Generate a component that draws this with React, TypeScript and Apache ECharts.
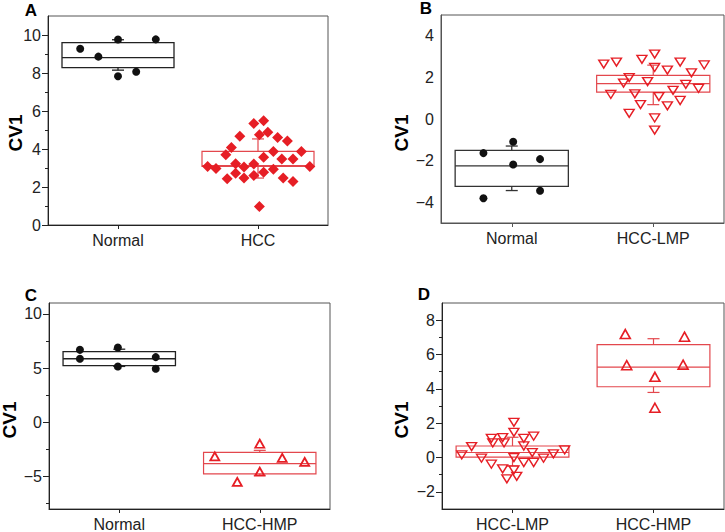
import React, { useEffect, useRef } from 'react';
import * as echarts from 'echarts';

const FONT = '"Liberation Sans", Arial, Helvetica, sans-serif';
const RED = '#e61e25';
const BOX_RED = '#e3474d';
const BLACK = '#111111';

// ---------- Panel A ----------
const catsA = ['Normal', 'HCC'];
const normalA = [[0.23, 9.28], [0.36, 8.86], [0.5, 9.76], [0.5, 7.83], [0.63, 8.07], [0.77, 9.77]];
const hccA = [
  [1.47, 5.34], [1.54, 5.49], [1.37, 4.67], [1.51, 4.75], [1.57, 4.88], [1.64, 4.61], [1.71, 4.42],
  [1.31, 4.08], [1.27, 3.7], [1.61, 3.87], [1.54, 3.56], [1.67, 3.47], [1.75, 3.47], [1.81, 3.87],
  [1.14, 3.08], [1.2, 2.97], [1.34, 3.22], [1.4, 3.05], [1.47, 3.21], [1.61, 2.94], [1.87, 3.08],
  [1.28, 2.43], [1.34, 2.73], [1.4, 2.47], [1.47, 2.61], [1.54, 2.78], [1.68, 2.47], [1.75, 2.29],
  [1.51, 0.97],
];
// [center, q1, median, q3, whiskerLow, whiskerHigh]
const boxNormalA = [0.5, 8.28, 8.81, 9.6, 8.15, 9.75];
const boxHccA = [1.5, 3.08, 3.12, 3.87, 2.47, 4.53];
const majorA = [0, 2, 4, 6, 8, 10];
const minorA = [1, 3, 5, 7, 9];

// ---------- Panel B ----------
const catsB = ['Normal', 'HCC-LMP'];
const normalB = [[0.3, -1.64], [0.51, -1.09], [0.51, -2.19], [0.7, -1.93], [0.3, -3.81], [0.7, -3.45]];
const lmpB = [
  [1.15, 2.64], [1.24, 2.74], [1.42, 2.87], [1.51, 3.12], [1.51, 2.48], [1.6, 2.35], [1.69, 2.74],
  [1.86, 2.6], [1.77, 2.22], [1.33, 1.99], [1.29, 1.73], [1.46, 1.8], [1.73, 1.67], [1.82, 1.47],
  [1.2, 1.18], [1.37, 1.21], [1.64, 1.38], [1.54, 1.08], [1.69, 0.89], [1.41, 0.69], [1.6, 0.63],
  [1.33, 0.27], [1.51, 0.05], [1.51, -0.53],
];
const boxNormalB = [0.5, -3.24, -2.25, -1.51, -3.44, -1.3];
const boxLmpB = [1.5, 1.29, 1.7, 2.1, 0.69, 2.59];
const majorB = [-4, -2, 0, 2, 4];
const minorB: number[] = [];

// ---------- Panel C ----------
const catsC = ['Normal', 'HCC-HMP'];
const normalC = [[0.22, 6.68], [0.22, 5.86], [0.49, 6.89], [0.49, 5.15], [0.76, 6.01], [0.76, 4.94]];
const hmpC = [[1.18, -3.14], [1.5, -1.98], [1.66, -3.29], [1.82, -3.66], [1.5, -4.55], [1.34, -5.5]];
const boxNormalC = [0.5, 5.22, 5.86, 6.52, 5.15, 6.74];
const boxHmpC = [1.5, -4.76, -3.81, -2.78, -4.89, -2.59];
const majorC = [-5, 0, 5, 10];
const minorC = [-7.5, -2.5, 2.5, 7.5];

// ---------- Panel D ----------
const catsD = ['HCC-LMP', 'HCC-HMP'];
const lmpD = [
  [0.51, 2.05], [0.51, 1.47], [0.35, 1.12], [0.43, 1.16], [0.58, 1.12], [0.65, 1.24], [0.36, 0.85],
  [0.44, 0.85], [0.58, 0.67], [0.21, 0.64], [0.14, 0.15], [0.28, -0.04], [0.51, 0.0], [0.64, 0.29],
  [0.72, -0.04], [0.79, 0.21], [0.87, 0.44], [0.35, -0.39], [0.58, -0.29], [0.65, -0.29],
  [0.43, -0.66], [0.51, -0.72], [0.46, -1.24], [0.53, -1.1],
];
const hmpD = [[1.3, 7.19], [1.72, 7.04], [1.31, 5.38], [1.71, 5.41], [1.51, 4.7], [1.51, 2.9]];
const boxLmpD = [0.5, 0.02, 0.29, 0.67, -0.5, 1.18];
const boxHmpD = [1.5, 4.12, 5.26, 6.58, 3.79, 6.92];
const majorD = [-2, 0, 2, 4, 6, 8];
const minorD = [-1, 1, 3, 5, 7];

const DOWN_TRI = 'path://M0,0L10,0L5,8.7Z';

type Panel = {
  grid: any;
  cats: string[];
  min: number;
  max: number;
  major: number[];
  minor: number[];
  showTicks: boolean;
  axisColor: string;
  boxes: { data: number[]; color: string; width: number }[];
  points: { data: number[][]; symbol: string; size: any; filled: boolean; color: string; bw?: number }[];
  letter: { text: string; x: number; y: number };
  title: { x: number; y: number };
};

const panels: Panel[] = [
  {
    grid: { left: 48, top: 16, width: 280, height: 209 },
    cats: catsA, min: 0, max: 11, major: majorA, minor: minorA, showTicks: true, axisColor: '#222',
    boxes: [
      { data: boxNormalA, color: '#222', width: 1.3 },
      { data: boxHccA, color: BOX_RED, width: 1.2 },
    ],
    points: [
      { data: normalA, symbol: 'circle', size: 8, filled: true, color: BLACK },
      { data: hccA, symbol: 'diamond', size: 11, filled: true, color: RED },
    ],
    letter: { text: 'A', x: 31, y: 10 },
    title: { x: 15, y: 133 },
  },
  {
    grid: { left: 441, top: 15, width: 283, height: 208 },
    cats: catsB, min: -5, max: 5, major: majorB, minor: minorB, showTicks: false, axisColor: '#555',
    boxes: [
      { data: boxNormalB, color: '#333', width: 1.3 },
      { data: boxLmpB, color: BOX_RED, width: 1.2 },
    ],
    points: [
      { data: normalB, symbol: 'circle', size: 8, filled: true, color: BLACK },
      { data: lmpB, symbol: DOWN_TRI, size: [10, 8], filled: false, color: RED, bw: 1.4 },
    ],
    letter: { text: 'B', x: 426, y: 8 },
    title: { x: 401, y: 133 },
  },
  {
    grid: { left: 49, top: 303, width: 281, height: 208 },
    cats: catsC, min: -8, max: 11, major: majorC, minor: minorC, showTicks: true, axisColor: '#222',
    boxes: [
      { data: boxNormalC, color: '#222', width: 1.3 },
      { data: boxHmpC, color: BOX_RED, width: 1.2 },
    ],
    points: [
      { data: normalC, symbol: 'circle', size: 8, filled: true, color: BLACK },
      { data: hmpC, symbol: 'triangle', size: [9, 8], filled: false, color: RED, bw: 1.8 },
    ],
    letter: { text: 'C', x: 31, y: 295 },
    title: { x: 9, y: 420 },
  },
  {
    grid: { left: 442, top: 303, width: 282, height: 208 },
    cats: catsD, min: -3, max: 9, major: majorD, minor: minorD, showTicks: true, axisColor: '#222',
    boxes: [
      { data: boxLmpD, color: BOX_RED, width: 1.2 },
      { data: boxHmpD, color: BOX_RED, width: 1.2 },
    ],
    points: [
      { data: lmpD, symbol: DOWN_TRI, size: [10, 8], filled: false, color: RED, bw: 1.4 },
      { data: hmpD, symbol: 'triangle', size: [10, 9], filled: false, color: RED, bw: 1.6 },
    ],
    letter: { text: 'D', x: 424, y: 294 },
    title: { x: 401, y: 420 },
  },
];

function boxRenderer(color: string, lw: number) {
  return (_params: any, api: any) => {
    const cx = api.value(0);
    const q1 = api.value(1);
    const med = api.value(2);
    const q3 = api.value(3);
    const lo = api.value(4);
    const hi = api.value(5);
    const tl = api.coord([cx - 0.4, q3]);
    const br = api.coord([cx + 0.4, q1]);
    const m = api.coord([cx, med]);
    const l = api.coord([cx, lo]);
    const h = api.coord([cx, hi]);
    const st = { stroke: color, lineWidth: lw, fill: 'none' };
    const cap = 6;
    return {
      type: 'group',
      children: [
        { type: 'rect', shape: { x: tl[0], y: tl[1], width: br[0] - tl[0], height: br[1] - tl[1] }, style: st },
        { type: 'line', shape: { x1: tl[0], y1: m[1], x2: br[0], y2: m[1] }, style: st },
        { type: 'line', shape: { x1: m[0], y1: tl[1], x2: m[0], y2: h[1] }, style: st },
        { type: 'line', shape: { x1: m[0] - cap, y1: h[1], x2: m[0] + cap, y2: h[1] }, style: st },
        { type: 'line', shape: { x1: m[0], y1: br[1], x2: m[0], y2: l[1] }, style: st },
        { type: 'line', shape: { x1: m[0] - cap, y1: l[1], x2: m[0] + cap, y2: l[1] }, style: st },
      ],
    };
  };
}

const fmtNum = (v: number) => String(v).replace('-', '\u2212');

function buildOption() {
  const grid: any[] = [];
  const xAxis: any[] = [];
  const yAxis: any[] = [];
  const series: any[] = [];
  const graphic: any[] = [];

  panels.forEach((p, i) => {
    grid.push({ ...p.grid, show: true, borderColor: '#555', borderWidth: 1, backgroundColor: 'transparent' });
    xAxis.push({
      type: 'value', gridIndex: i, min: 0, max: 2, position: 'bottom',
      axisLine: { show: true, onZero: false, lineStyle: { color: p.axisColor, width: 1 } },
      splitLine: { show: false },
      axisTick: { show: true, customValues: [0.5, 1.5], length: 4, lineStyle: { color: p.axisColor } },
      axisLabel: {
        show: true, customValues: [0.5, 1.5], margin: 7,
        formatter: (v: number) => p.cats[Math.round(v - 0.5)] || '',
        fontFamily: FONT, fontSize: 16, color: '#222',
      },
    });
    yAxis.push({
      type: 'value', gridIndex: i, min: p.min, max: p.max, position: 'left',
      axisLine: { show: true, onZero: false, lineStyle: { color: p.axisColor, width: 1 } },
      splitLine: { show: false },
      axisTick: { show: p.showTicks, customValues: p.major, length: 6, lineStyle: { color: p.axisColor } },
      axisLabel: {
        show: true, customValues: p.major, margin: 7,
        formatter: (v: number) => fmtNum(v),
        fontFamily: FONT, fontSize: 16, color: '#222',
      },
    });
    yAxis.push({
      type: 'value', gridIndex: i, min: p.min, max: p.max, position: 'left',
      axisLine: { show: false, onZero: false },
      splitLine: { show: false },
      axisTick: { show: p.minor.length > 0, customValues: p.minor.length ? p.minor : [p.min], length: 3, lineStyle: { color: p.axisColor } },
      axisLabel: { show: false },
    });

    p.boxes.forEach((b) => {
      series.push({
        type: 'custom', xAxisIndex: i, yAxisIndex: 2 * i,
        renderItem: boxRenderer(b.color, b.width),
        data: [b.data],
        encode: { x: 0, y: [1, 2, 3, 4, 5] },
        silent: true,
        z: 2,
      });
    });
    p.points.forEach((s) => {
      series.push({
        type: 'scatter', xAxisIndex: i, yAxisIndex: 2 * i,
        symbol: s.symbol, symbolSize: s.size,
        data: s.data,
        itemStyle: s.filled
          ? { color: s.color, opacity: 1 }
          : { color: 'rgba(255,255,255,0)', borderColor: s.color, borderWidth: s.bw || 1.4, opacity: 1 },
        z: 3,
      });
    });

    graphic.push({
      type: 'text', x: p.letter.x, y: p.letter.y,
      style: { text: p.letter.text, fontFamily: FONT, fontWeight: 'bold', fontSize: 17, fill: '#000', align: 'center', verticalAlign: 'middle' },
    });
    graphic.push({
      type: 'text', x: p.title.x, y: p.title.y, rotation: Math.PI / 2,
      style: { text: 'CV1', fontFamily: FONT, fontWeight: 'bold', fontSize: 19, fill: '#000', align: 'center', verticalAlign: 'middle' },
    });
  });

  return {
    animation: false,
    backgroundColor: '#ffffff',
    textStyle: { fontFamily: FONT },
    grid, xAxis, yAxis, series, graphic,
  };
}

export default function App() {
  const ref = useRef<HTMLDivElement>(null);
  useEffect(() => {
    document.body.style.margin = '0';
    if (!ref.current) return;
    const chart = echarts.init(ref.current, undefined, { renderer: 'svg' });
    chart.setOption(buildOption() as any);
    return () => chart.dispose();
  }, []);
  return <div ref={ref} style={{ width: 725, height: 532 }} />;
}
